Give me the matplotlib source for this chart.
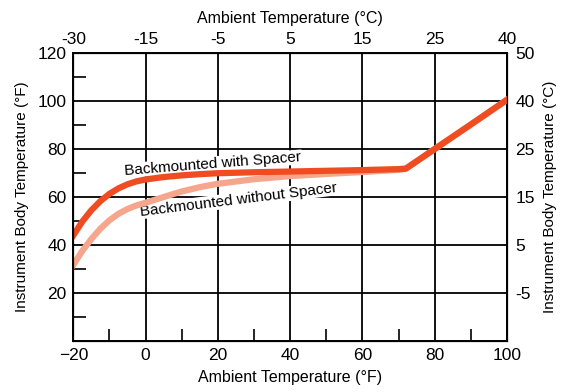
import matplotlib.pyplot as plt
from matplotlib.ticker import MultipleLocator

plt.rcParams['font.family'] = ['Liberation Sans', 'DejaVu Sans']

# ambient temperature (F) and instrument body temperature (F)
ambient_f = [-20, -17.5, -15, -12.5, -10, -7.5, -5, -2.5, 0, 5, 10, 15, 20, 30,
             40, 50, 60, 70, 72, 80, 90, 100]
with_spacer = [44, 49.8, 54.5, 58.3, 61.3, 63.6, 65.3, 66.5, 67.3, 68.3, 69, 69.5,
               69.9, 70.3, 70.6, 70.9, 71.2, 71.6, 71.8, 80, 90.2, 100.5]
without_spacer = [31.7, 37.6, 42.5, 46.8, 50.3, 53, 55, 56.5, 57.6, 60, 62.3, 64.1,
                  65.5, 67.4, 68.7, 69.6, 70.4, 71.3, 71.8, 80, 90.2, 100.5]

bottom_ticks = [-20, 0, 20, 40, 60, 80, 100]
top_labels = ['-30', '-15', '-5', '5', '15', '25', '40']
left_ticks = [20, 40, 60, 80, 100, 120]
right_labels = ['-5', '5', '15', '25', '40', '50']

fig = plt.figure(figsize=(5.64, 3.92), dpi=100)
ax = fig.add_axes([0.130, 0.130, 0.769, 0.735])

ax.plot(ambient_f, without_spacer, color='#f6a68c', lw=4.5, zorder=4)
ax.plot(ambient_f, with_spacer, color='#f04c22', lw=4.5, zorder=5)

ax.set_xlim(-20, 100)
ax.set_ylim(0, 120)
ax.set_xticks(bottom_ticks)
ax.set_yticks(left_ticks)
ax.xaxis.set_minor_locator(MultipleLocator(10))
ax.yaxis.set_minor_locator(MultipleLocator(10))
ax.grid(True, which='major', color='black', lw=1.3)
ax.tick_params(which='major', length=0, labelsize=12.5, pad=5)
ax.tick_params(which='minor', direction='in', length=9, width=1.2,
               top=True, right=True)
for s in ax.spines.values():
    s.set_linewidth(1.4)

ax.set_xlabel('Ambient Temperature (°F)', fontsize=11.5, labelpad=5)
ax.set_ylabel('Instrument Body Temperature (°F)', fontsize=11, labelpad=6)

# Celsius labels on top and right
axt = ax.twiny()
axt.set_xlim(ax.get_xlim())
axt.set_xticks(bottom_ticks)
axt.set_xticklabels(top_labels)
axt.tick_params(length=0, labelsize=12.5, pad=4)
axt.set_xlabel('Ambient Temperature (°C)', fontsize=11.5, labelpad=7)

axr = ax.twinx()
axr.set_ylim(ax.get_ylim())
axr.set_yticks(left_ticks)
axr.set_yticklabels(right_labels)
axr.tick_params(length=0, labelsize=12.5, pad=6)
axr.set_ylabel('Instrument Body Temperature (°C)', fontsize=11, labelpad=6)

ax.text(18.7, 73.8, 'Backmounted with Spacer', fontsize=11, rotation=4.5,
        ha='center', va='center', zorder=3,
        bbox=dict(facecolor='white', edgecolor='none', pad=0.3))
ax.text(25.6, 58.8, 'Backmounted without Spacer', fontsize=11, rotation=7,
        ha='center', va='center', zorder=3,
        bbox=dict(facecolor='white', edgecolor='none', pad=0.3))

fig.savefig('out.png', dpi=100)
